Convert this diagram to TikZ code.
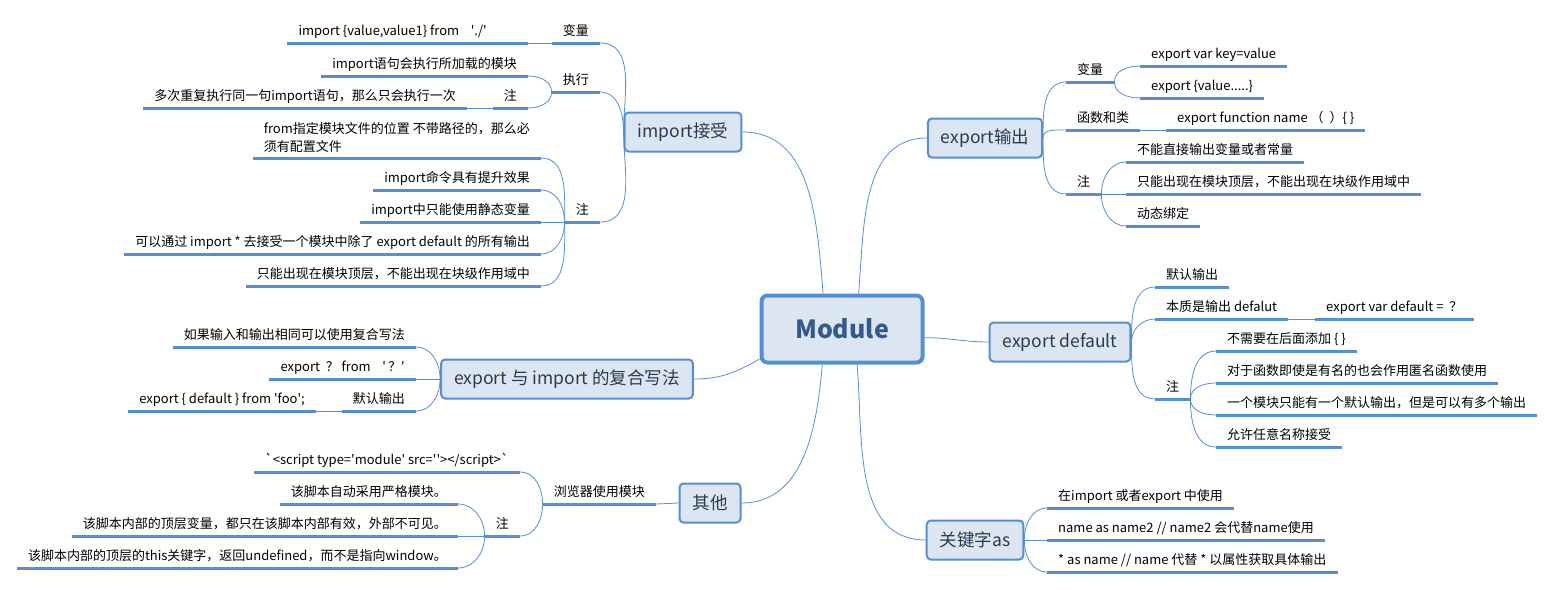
\documentclass[tikz,border=0pt]{standalone}
\usepackage{fontspec}
\setmainfont{Noto Sans CJK SC}
\usepackage{tikz}

\definecolor{xline}{HTML}{558ED5}
\definecolor{xfill}{HTML}{DCE6F2}
\definecolor{xtext}{HTML}{2B3A4F}
\definecolor{xmod}{HTML}{335A8C}

\newcommand{\q}{\textquotesingle}

\tikzset{
  root/.style={draw=xline, line width=4pt, fill=xfill, rounded corners=6pt, text=xmod,
    font=\fontsize{25}{30}\selectfont\bfseries, minimum width=161pt, minimum height=67pt},
  topic/.style={draw=xline, line width=2pt, fill=xfill, rounded corners=4pt, text=xtext,
    font=\fontsize{17.5}{21}\selectfont, minimum height=39pt, inner xsep=13pt},
  uline/.style={draw=xline, line width=3pt},
  leaf/.style={font=\fontsize{13}{18}\selectfont, inner xsep=11pt, inner ysep=5pt,
    text height=10pt, text depth=2pt,
    append after command={(\tikzlastnode.south west) edge[uline] (\tikzlastnode.south east)}},
  link/.style={draw=xline, line width=0.8pt},
}

\begin{document}
\begin{tikzpicture}[x=1pt, y=-1pt]
\useasboundingbox (0,0) rectangle (1555,589);

\node[root] (mod) at (842,329) {Module};

% main topics
\node[topic] (imp) at (683,132) {import接受};
\node[topic] (exp) at (985,138) {export输出};
\node[topic] (def) at (1060,342) {export default};
\node[topic] (cmb) at (567,379) {export 与 import 的复合写法};
\node[topic] (oth) at (710,503) {其他};
\node[topic] (kw) at (975,540) {关键字as};

\draw[link] (mod.118) to[out=95,in=0] (imp.east);
\draw[link] (mod.65) to[out=85,in=180] (exp.west);
\draw[link] (mod.-6) to[out=0,in=180] (def.west);
\draw[link] (mod.200) to[out=210,in=0] (cmb.east);
\draw[link] (mod.241) to[out=-95,in=0] (oth.east);
\draw[link] (mod.293) to[out=-85,in=180] (kw.west);

% import接受
\node[leaf, anchor=south east] (impvar) at (600,43) {变量};
\node[leaf, anchor=south east] (impval) at (528,43) {import \{value,value1\} from \ \ \ \q./\q\hspace{30pt}\null};
\node[leaf, anchor=south east] (impexe) at (600,92) {执行};
\node[leaf, anchor=south east] (impexe1) at (528,76) {import语句会执行所加载的模块};
\node[leaf, anchor=south east] (impexen) at (528,108) {注};
\node[leaf, anchor=south east] (impexen1) at (467,108) {多次重复执行同一句import语句，那么只会执行一次};
\node[leaf, anchor=south east] (impnote) at (600,222) {注};
\node[leaf, anchor=south east, align=left, text height={}, text depth={}] (impn1) at (541,158) {from指定模块文件的位置 不带路径的，那么必\\须有配置文件};
\node[leaf, anchor=south east] (impn2) at (541,190) {import命令具有提升效果};
\node[leaf, anchor=south east] (impn3) at (541,222) {import中只能使用静态变量};
\node[leaf, anchor=south east] (impn4) at (541,254) {可以通过 import * 去接受一个模块中除了 export default 的所有输出};
\node[leaf, anchor=south east] (impn5) at (541,286) {只能出现在模块顶层，不能出现在块级作用域中};

\draw[link] (imp.west) to[out=90,in=0] (impvar.south east);
\draw[link] (imp.west) to[out=90,in=0] (impexe.south east);
\draw[link] (imp.west) to[out=-90,in=0] (impnote.south east);
\draw[link] (impvar.south west) -- (impval.south east);
\draw[link] (impexe.south west) to[out=90,in=0] (impexe1.south east);
\draw[link] (impexe.south west) to[out=-90,in=0] (impexen.south east);
\draw[link] (impexen.south west) -- (impexen1.south east);
\draw[link] (impnote.south west) to[out=90,in=0] (impn1.south east);
\draw[link] (impnote.south west) to[out=90,in=0] (impn2.south east);
\draw[link] (impnote.south west) -- (impn3.south east);
\draw[link] (impnote.south west) to[out=-90,in=0] (impn4.south east);
\draw[link] (impnote.south west) to[out=-90,in=0] (impn5.south east);

% export 与 import 的复合写法
\node[leaf, anchor=south east] (cmb1) at (416,347) {如果输入和输出相同可以使用复合写法};
\node[leaf, anchor=south east] (cmb2) at (416,379) {export \ ？ from \ \ \ \q\,？\q};
\node[leaf, anchor=south east] (cmb3) at (416,411) {默认输出};
\node[leaf, anchor=south east] (cmb31) at (316,411) {export \{ default \} from \q foo\q;};

\draw[link] (cmb.west) to[out=90,in=0] (cmb1.south east);
\draw[link] (cmb.west) -- (cmb2.south east);
\draw[link] (cmb.west) to[out=-90,in=0] (cmb3.south east);
\draw[link] (cmb3.south west) -- (cmb31.south east);

% 其他
\node[leaf, anchor=south east] (othb) at (656,504) {浏览器使用模块};
\node[leaf, anchor=south east] (othb1) at (520,472) {\textasciigrave<script type=\q module\q\ src=\q\q></script>\textasciigrave};
\node[leaf, anchor=south east] (othn) at (520,536) {注};
\node[leaf, anchor=south east] (othn1) at (458,504) {该脚本自动采用严格模块。};
\node[leaf, anchor=south east] (othn2) at (458,536) {该脚本内部的顶层变量，都只在该脚本内部有效，外部不可见。};
\node[leaf, anchor=south east] (othn3) at (458,568) {该脚本内部的顶层的this关键字，返回undefined，而不是指向window。};

\draw[link] (oth.west) -- (othb.south east);
\draw[link] (othb.south west) to[out=90,in=0] (othb1.south east);
\draw[link] (othb.south west) to[out=-90,in=0] (othn.south east);
\draw[link] (othn.south west) to[out=90,in=0] (othn1.south east);
\draw[link] (othn.south west) -- (othn2.south east);
\draw[link] (othn.south west) to[out=-90,in=0] (othn3.south east);

% export输出
\node[leaf, anchor=south west] (expv) at (1066,82) {变量};
\node[leaf, anchor=south west] (expv1) at (1140,66) {export var key=value};
\node[leaf, anchor=south west] (expv2) at (1140,98) {export \{value.....\}};
\node[leaf, anchor=south west] (expf) at (1066,130) {函数和类};
\node[leaf, anchor=south west] (expf1) at (1166,130) {export function name （\ \ ）\{ \}};
\node[leaf, anchor=south west] (expn) at (1066,194) {注};
\node[leaf, anchor=south west] (expn1) at (1126,162) {不能直接输出变量或者常量};
\node[leaf, anchor=south west] (expn2) at (1126,194) {只能出现在模块顶层，不能出现在块级作用域中};
\node[leaf, anchor=south west] (expn3) at (1126,226) {动态绑定};

\draw[link] (exp.east) to[out=90,in=180] (expv.south west);
\draw[link] (exp.east) to[out=90,in=180] (expf.south west);
\draw[link] (exp.east) to[out=-90,in=180] (expn.south west);
\draw[link] (expv.south east) to[out=90,in=180] (expv1.south west);
\draw[link] (expv.south east) to[out=-90,in=180] (expv2.south west);
\draw[link] (expf.south east) -- (expf1.south west);
\draw[link] (expn.south east) to[out=90,in=180] (expn1.south west);
\draw[link] (expn.south east) -- (expn2.south west);
\draw[link] (expn.south east) to[out=-90,in=180] (expn3.south west);

% export default
\node[leaf, anchor=south west] (def1) at (1155,287) {默认输出};
\node[leaf, anchor=south west] (def2) at (1155,319) {本质是输出 defalut};
\node[leaf, anchor=south west] (def21) at (1315,319) {export var default = \ ？};
\node[leaf, anchor=south west] (defn) at (1155,399) {注};
\node[leaf, anchor=south west] (defn1) at (1216,351) {不需要在后面添加 \{ \}};
\node[leaf, anchor=south west] (defn2) at (1216,383) {对于函数即使是有名的也会作用匿名函数使用};
\node[leaf, anchor=south west] (defn3) at (1216,415) {一个模块只能有一个默认输出，但是可以有多个输出};
\node[leaf, anchor=south west] (defn4) at (1216,447) {允许任意名称接受};

\draw[link] (def.east) to[out=90,in=180] (def1.south west);
\draw[link] (def.east) to[out=90,in=180] (def2.south west);
\draw[link] (def.east) to[out=-90,in=180] (defn.south west);
\draw[link] (def2.south east) -- (def21.south west);
\draw[link] (defn.south east) to[out=90,in=180] (defn1.south west);
\draw[link] (defn.south east) to[out=90,in=180] (defn2.south west);
\draw[link] (defn.south east) to[out=-90,in=180] (defn3.south west);
\draw[link] (defn.south east) to[out=-90,in=180] (defn4.south west);

% 关键字as
\node[leaf, anchor=south west] (kw1) at (1047,508) {在import 或者export 中使用};
\node[leaf, anchor=south west] (kw2) at (1047,540) {name as name2 // name2 会代替name使用};
\node[leaf, anchor=south west] (kw3) at (1047,572) {* as name // name 代替 * 以属性获取具体输出};

\draw[link] (kw.east) to[out=90,in=180] (kw1.south west);
\draw[link] (kw.east) -- (kw2.south west);
\draw[link] (kw.east) to[out=-90,in=180] (kw3.south west);
\end{tikzpicture}
\end{document}
